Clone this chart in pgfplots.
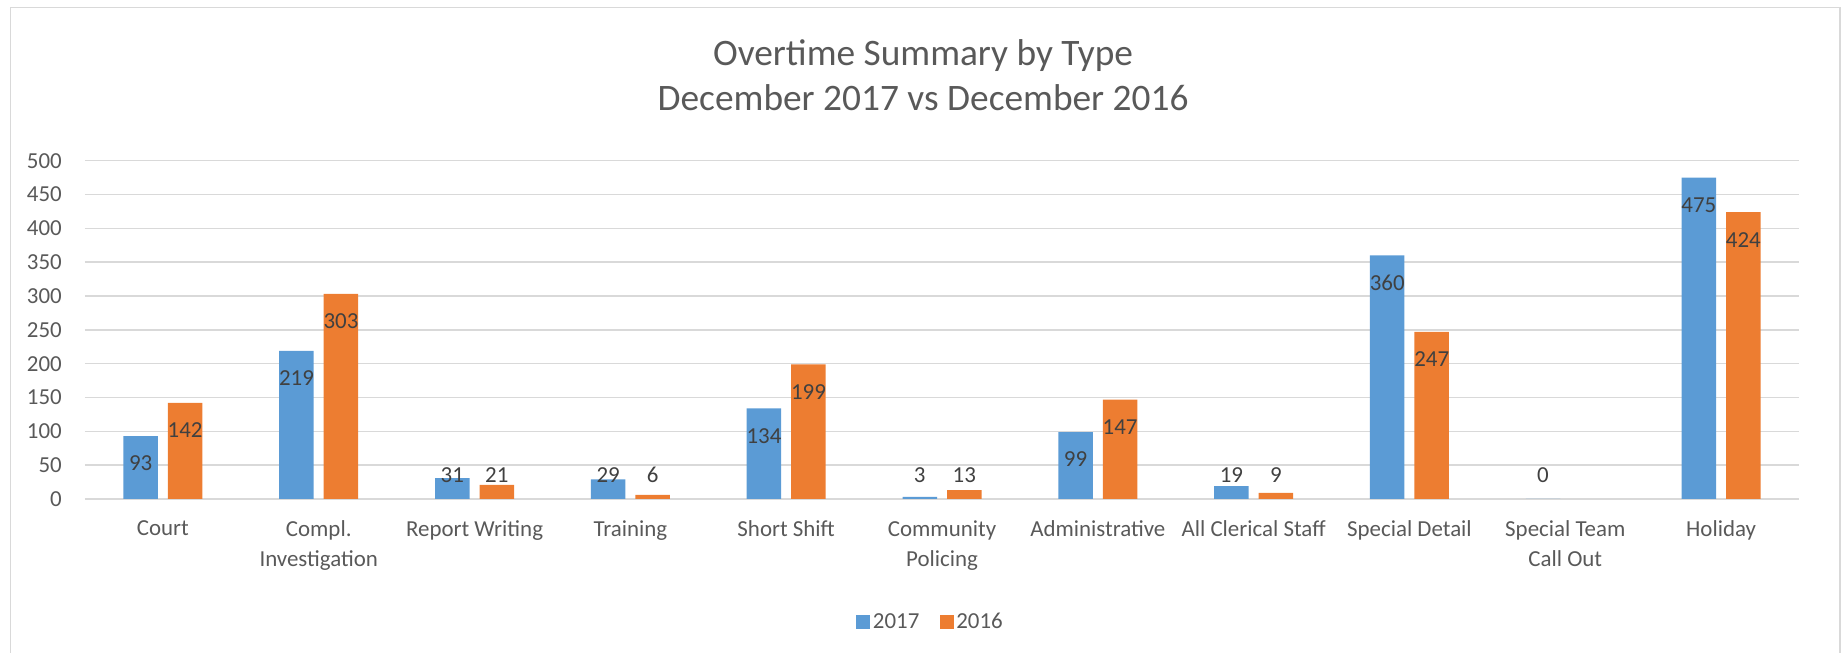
\documentclass[border=0pt]{standalone}
\usepackage{fontspec}
\setmainfont{Carlito}
\usepackage{pgfplots}
\pgfplotsset{compat=1.18}
\usepackage{pgfplotstable}
\definecolor{b17}{HTML}{5B9BD5}
\definecolor{o16}{HTML}{ED7D31}
\definecolor{gridc}{HTML}{D9D9D9}
\definecolor{txt}{HTML}{595959}
\definecolor{lbl}{HTML}{404040}

% x = category index, v = value, ly = height at which the label sits
\pgfplotstableread{
x v ly
0 93 52.4
1 219 178.4
2 31 35.5
3 29 35.5
4 134 93.4
5 3 35.5
6 99 58.4
7 19 35.5
8 360 319.4
9 0 35.5
10 475 434.4
}\dataA
\pgfplotstableread{
x v ly
0 142 101.4
1 303 262.4
2 21 35.5
3 6 35.5
4 199 158.4
5 13 35.5
6 147 106.4
7 9 35.5
8 247 206.4
10 424 383.4
}\dataB

\begin{document}
\begin{tikzpicture}[x=1bp,y=1bp]
\begin{axis}[
  name=ax,
  scale only axis, width=1714bp, height=338.3bp,
  xmin=-0.5, xmax=10.5, ymin=0, ymax=500,
  ytick={0,50,...,500},
  xtick={0,...,10},
  xticklabels={Court,{Compl.\\Investigation},Report Writing,Training,Short Shift,{Community\\Policing},Administrative,All Clerical Staff,Special Detail,{Special Team\\Call Out},Holiday},
  axis line style={draw=none},
  major tick length=0pt,
  ymajorgrids, grid style={gridc, line width=1.5bp},
  /pgf/number format/assume math mode=true,
  tick label style={font=\fontsize{23}{30}\selectfont, text=txt},
  yticklabel style={anchor=east, inner sep=0pt, xshift=-23bp},
  xticklabel style={align=center, anchor=north, inner sep=0pt, yshift=-21.5bp},
  legend style={at={(axis description cs:0.4935,-0.3636)}, anchor=center, draw=none, fill=none,
    legend columns=2, font=\fontsize{23}{28}\selectfont, text=txt,
    /tikz/every even column/.append style={column sep=18bp},
    nodes={inner sep=2.5bp}},
  legend image code/.code={\fill[#1] (0bp,-7bp) rectangle (14bp,7bp);},
  clip=false,
]
\coordinate (O) at (rel axis cs:0,0);
\addplot[ybar, bar width=0.2214, bar shift=-0.1428, fill=b17, draw=none] table[x=x,y=v]{\dataA};
\addlegendentry{2017}
\addplot[ybar, bar width=0.2214, bar shift=0.1428, fill=o16, draw=none] table[x=x,y=v]{\dataB};
\addlegendentry{2016}
\addplot[ybar, bar width=0.2214, bar shift=-0.1428, draw=none, fill=none, forget plot,
  nodes near coords, point meta=explicit symbolic,
  every node near coord/.append style={anchor=center, inner sep=0pt, xshift=-22.25bp, font=\fontsize{23}{28}\selectfont, text=lbl}]
  table[x=x,y=ly,meta=v]{\dataA};
\addplot[ybar, bar width=0.2214, bar shift=0.1428, draw=none, fill=none, forget plot,
  nodes near coords, point meta=explicit symbolic,
  every node near coord/.append style={anchor=center, inner sep=0pt, xshift=22.25bp, font=\fontsize{23}{28}\selectfont, text=lbl}]
  table[x=x,y=ly,meta=v]{\dataB};
\end{axis}
\pgfresetboundingbox
\begin{scope}[shift={(O)}]
\path[use as bounding box] (-85,-154) rectangle (1761,499);
\draw[gridc, line width=1.5bp] (-74.5,-154) -- (-74.5,491.5) -- (1755,491.5) -- (1755,-154);
\node[anchor=base, text=txt, font=\fontsize{37.5}{45}\selectfont, inner sep=0pt] at (838,433) {Overtime Summary by Type};
\node[anchor=base, text=txt, font=\fontsize{37.5}{45}\selectfont, inner sep=0pt] at (838,388) {December 2017 vs December 2016};
\end{scope}
\end{tikzpicture}
\end{document}
